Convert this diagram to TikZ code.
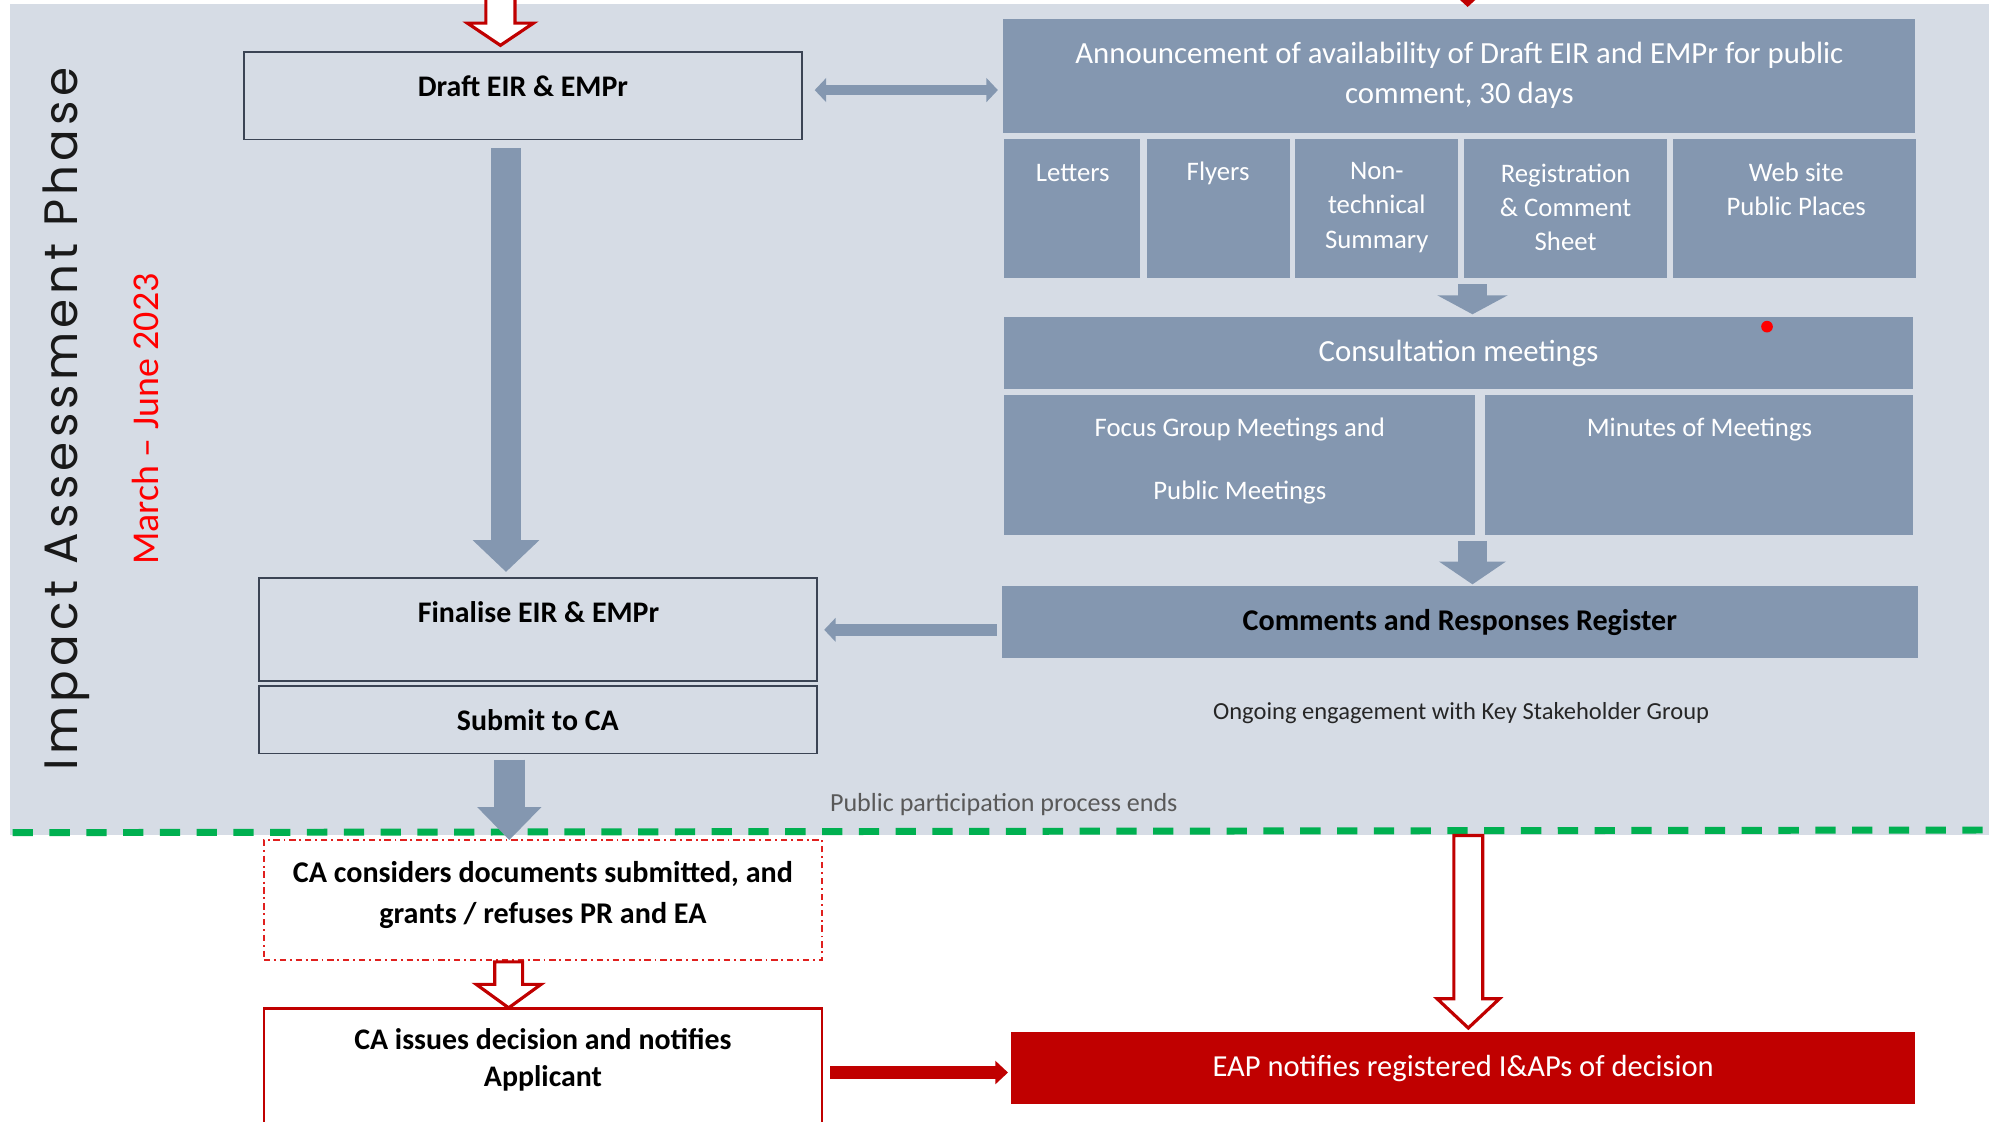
\documentclass[tikz,border=0pt]{standalone}
\usepackage{fontspec}
\setmainfont{Carlito}
\newfontfamily\phasefont[LetterSpace=9]{Poppins}
\usetikzlibrary{calc,arrows.meta}
\definecolor{phasebg}{HTML}{D6DCE5}
\definecolor{slate}{HTML}{8497B0}
\definecolor{edgeline}{HTML}{3B4454}
\definecolor{decisionred}{HTML}{C00000}
\definecolor{consred}{HTML}{E0201E}
\definecolor{ppgreen}{HTML}{00B050}
\definecolor{notegrey}{HTML}{595959}
\def\hollowarrow[#1](#2)(#3)(#4:#5:#6){\draw[#1] ($(#2)+(-#4,0)$) -- ($(#3)+(-#4,-#6)$) -- ($(#3)+(-#5,-#6)$) -- (#3) -- ($(#3)+(#5,-#6)$) -- ($(#3)+(#4,-#6)$) -- ($(#2)+(#4,0)$) -- cycle;}
\tikzset{
	stepframe/.style={draw=edgeline, line width=0.3mm, minimum width=88mm, inner sep=0pt},
	slatebox/.style={fill=slate, inner sep=0pt},
	darktext/.style={font=\bfseries\fontsize{13.4}{18}\selectfont, align=center, inner sep=0pt},
	lighttext/.style={text=white, align=center, inner sep=0pt, font=\fontsize{13.8}{18}\selectfont},
	mediatext/.style={text=white, align=center, inner sep=0pt, font=\fontsize{12}{15.4}\selectfont},
	meettext/.style={text=white, align=center, inner sep=0pt, font=\fontsize{12}{28.3}\selectfont},
	hollowred/.style={draw=decisionred, line width=0.5mm, fill=white, line join=miter},
}

\begin{document}
\begin{tikzpicture}[x=0.2mm, y=-0.2mm]
		%%%%% START %%%%%
		\useasboundingbox (0,0) rectangle (1568,884);
		\fill[white] (0,0) rectangle (1568,884);
		\fill[phasebg] (8,3) rectangle (1568,658);
		\draw[ppgreen, line width=1.1mm, dash pattern=on 3.2mm off 2.6mm] (10,656.4) -- (1568,654.3);
		
		\node[rotate=90, font=\phasefont\fontsize{21}{21}\selectfont, text=black!90] (phase) at (52,330.4) {Impact Assessment Phase};
		\node[rotate=90, font=\fontsize{17}{17}\selectfont, text=red] (period) at (114.5,330.4) {March – June 2023};
		
		%%%%% LEFT COLUMN %%%%%
		\node[stepframe, minimum height=13.8mm] (draft) at (412.5,75.5) {};
		\node[darktext] (draftlbl) at (412.3,68) {Draft EIR \& EMPr};
		\node[stepframe, minimum height=16.2mm] (final) at (424,496.5) {};
		\node[darktext] (finallbl) at (424.5,482.4) {Finalise EIR \& EMPr};
		\node[stepframe, minimum height=10.6mm, darktext] (submit) at (424,567.5) {Submit to CA};
		
		\node[draw=consred, line width=0.3mm, dash pattern=on 1mm off 0.6mm on 0.3mm off 0.6mm, minimum width=88mm, minimum height=19mm] (cacons) at (428,709.5) {};
		\node[darktext, font=\bfseries\fontsize{13.5}{18.2}\selectfont] (caconslbl) at (428,705.7) {CA considers documents submitted, and\\grants / refuses PR and EA};
		\node[draw=decisionred, line width=0.4mm, minimum width=88mm, minimum height=20.2mm] (caiss) at (428,845.5) {};
		\node[darktext, font=\bfseries\fontsize{13.4}{16.8}\selectfont] (caisslbl) at (428,835.7) {CA issues decision and notifies\\Applicant};
		
		%%%%% RIGHT COLUMN %%%%%
		\node[slatebox, lighttext, minimum width=143.8mm, minimum height=18mm] (ann) at (1150.5,59.6) {Announcement of availability of Draft EIR and EMPr for public\\comment, 30 days};
		
		\node[slatebox, minimum width=21.4mm, minimum height=22mm] (letters) at (845,164.5) {};
		\node[slatebox, minimum width=22.5mm, minimum height=22mm] (flyers) at (960.3,164.5) {};
		\node[slatebox, minimum width=25.8mm, minimum height=22mm] (nontech) at (1085.2,164.5) {};
		\node[slatebox, minimum width=32mm, minimum height=22mm] (regist) at (1234,164.5) {};
		\node[slatebox, minimum width=38.3mm, minimum height=22mm] (web) at (1414.3,164.5) {};
		\node[mediatext] (letterslbl) at (845.7,136.6) {Letters};
		\node[mediatext] (flyerslbl) at (960.3,136.6) {Flyers};
		\node[mediatext] (nontechlbl) at (1085.4,163.4) {Non-\\technical\\Summary};
		\node[mediatext] (registlbl) at (1234.2,163.4) {Registration\\\& Comment\\Sheet};
		\node[mediatext] (weblbl) at (1416,149.4) {Web site\\Public Places};
		
		\node[slatebox, lighttext, minimum width=143.3mm, minimum height=11.4mm] (cons) at (1149.8,278.4) {Consultation meetings};
		\node[slatebox, minimum width=74.2mm, minimum height=22.1mm] (focus) at (977,366.3) {};
		\node[slatebox, minimum width=67.4mm, minimum height=22.1mm] (minutes) at (1339.4,366.3) {};
		\node[meettext] (focuslbl) at (977.4,363.3) {Focus Group Meetings and\\Public Meetings};
		\node[meettext] (minuteslbl) at (1339.7,338.4) {Minutes of Meetings};
		
		\node[slatebox, darktext, font=\bfseries\fontsize{13.5}{16}\selectfont, minimum width=144.5mm, minimum height=11.4mm] (crr) at (1150.8,490.5) {Comments and Responses Register};
		\node[font=\fontsize{11}{13}\selectfont, text=black!85, inner sep=0pt] (ongoing) at (1151.8,562) {Ongoing engagement with Key Stakeholder Group};
		\node[anchor=west, font=\fontsize{11.7}{13}\selectfont, text=notegrey, inner sep=0pt] (ppends) at (654,634) {Public participation process ends};
		
		\node[fill=decisionred, text=white, font=\fontsize{13.7}{15}\selectfont, inner sep=0pt, minimum width=142.6mm, minimum height=11.3mm] (eap) at (1153.5,842) {EAP notifies registered I\&APs of decision};
		
		\fill[red] (1393,257.5) circle (4.6);
		
		%%%%% GREY ARROWS %%%%%
		\draw[slate, line width=1.6mm, {Triangle[length=1.8mm,width=3.7mm]}-{Triangle[length=1.8mm,width=3.7mm]}] ($(draft.east)+(9,-4.5)$) -- ($(ann.west |- draft.east)+(-4,-4.5)$);
		
		\coordinate (downtop) at ($(draft.south)+(-13.6,6)$);
		\draw[slate, line width=4.8mm, -{Triangle[length=5mm,width=10.2mm]}] (downtop) -- ($(downtop |- final.north)+(0,-4.4)$);
		
		\draw[slate, line width=4.5mm, -{Triangle[length=3mm,width=11mm]}] ($(letters.south -| cons.north)+(11,4.4)$) -- ($(cons.north)+(11,-1.8)$);
		\draw[slate, line width=4.5mm, -{Triangle[length=3.6mm,width=10.4mm]}] ($(focus.south -| crr.north)+(10,4.5)$) -- ($(crr.north)+(10,-1)$);
		\draw[slate, line width=1.8mm, -{Triangle[length=1.8mm,width=3.7mm]}] ($(crr.west |- final.east)+(-3.5,0)$) -- ($(final.east)+(5,0)$);
		
		\coordinate (submitout) at ($(submit.south)+(-22.5,4)$);
		\draw[slate, line width=4.9mm, -{Triangle[length=5.2mm,width=9.8mm]}] (submitout) -- ($(submitout |- cacons.north)+(0,1)$);
		
		%%%%% RED ARROWS %%%%%
		\coordinate (intop) at (394.5,-5);
		\coordinate (intip) at ($(draft.north)+(-18,-4.5)$);
		\hollowarrow[hollowred](intop)(intip)(11.5:26:17.5)
		
		\coordinate (consout) at ($(cacons.south)+(-27,0.5)$);
		\coordinate (issuein) at ($(caiss.north)+(-27,0.5)$);
		\hollowarrow[hollowred](consout)(issuein)(11:25.5:18.5)
		
		\coordinate (ppend) at (1157.5,658.7);
		\coordinate (eapin) at ($(ppend |- eap.north)+(0,-3)$);
		\hollowarrow[hollowred](ppend)(eapin)(11.4:24.5:23)
		
		\draw[decisionred, line width=2mm, -{Triangle[length=2mm,width=3.6mm]}] ($(caiss.east)+(5.6,0)$) -- ($(eap.west |- caiss.east)+(-2,0)$);
		\fill[decisionred] (1151,0) -- (1163,0) -- (1157,5.5) -- cycle;
		%%%%% END %%%%%
\end{tikzpicture}
\end{document}
